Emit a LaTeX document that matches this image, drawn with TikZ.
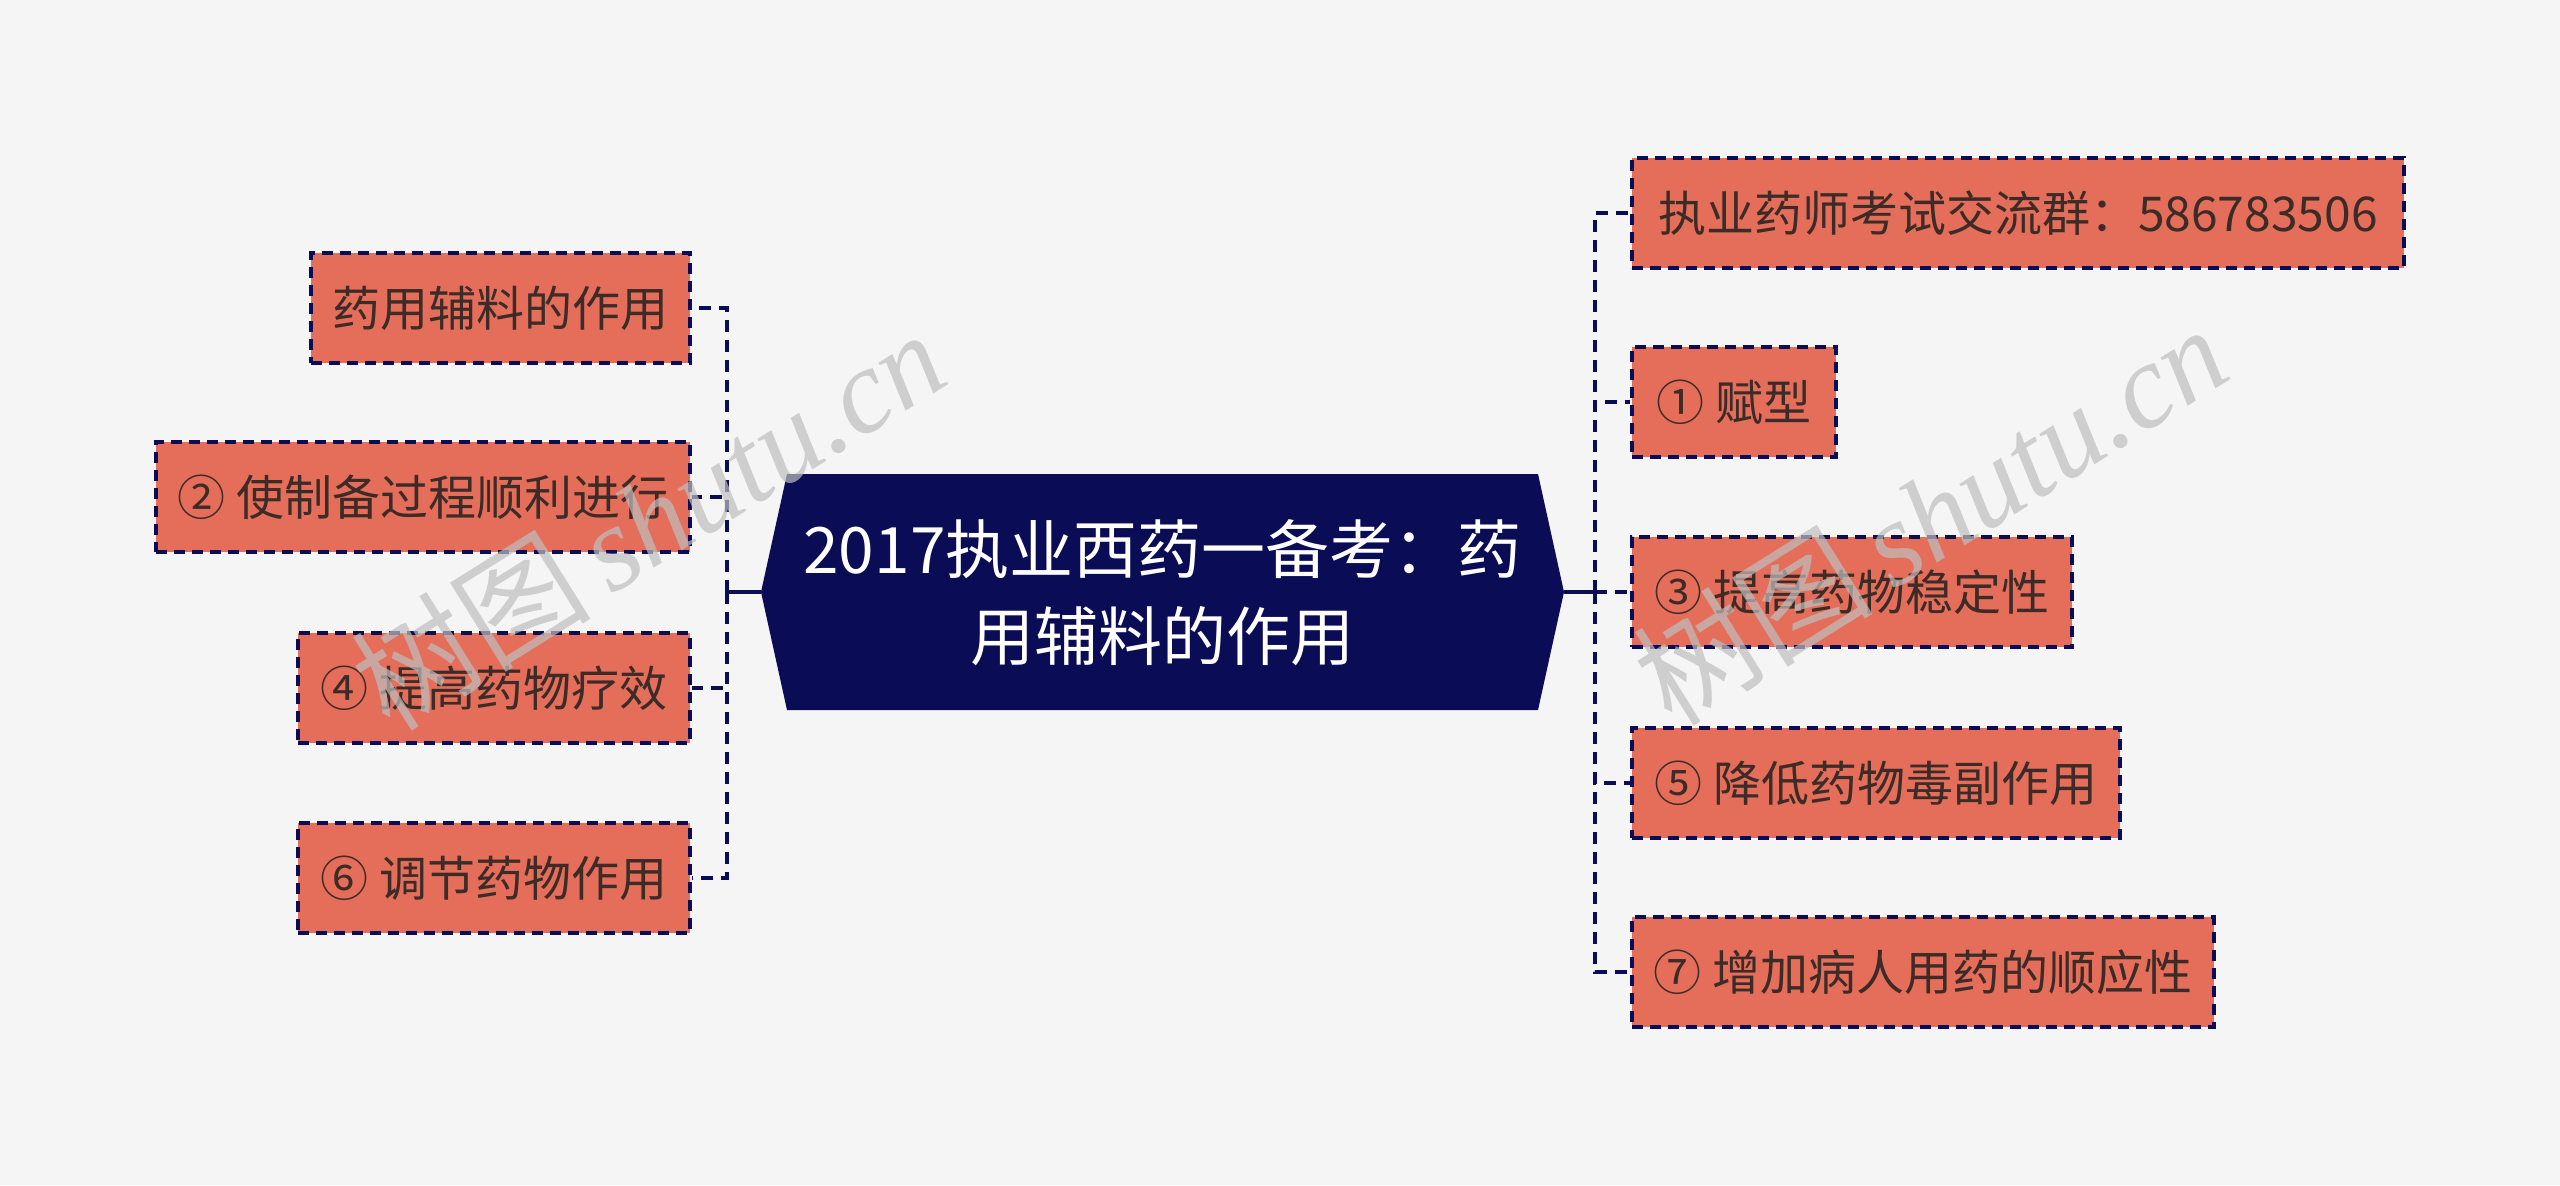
\documentclass[tikz,border=0pt]{standalone}
\usepackage{fontspec}
\newfontfamily\cjk{Noto Sans CJK SC}
\newfontfamily\wmserif{Liberation Serif}
\definecolor{bgc}{HTML}{F5F5F5}
\definecolor{navy}{HTML}{0A0C55}
\definecolor{salmon}{HTML}{E46E5A}
\definecolor{txt}{HTML}{3D2B28}
\definecolor{wm}{HTML}{BEBEBE}
\tikzset{
  box/.style={draw=navy, fill=salmon, dash pattern=on 5.5pt off 3.5pt, line width=1.9pt,
    minimum height=55pt, inner xsep=0pt, inner ysep=0pt, text=txt,
    font=\cjk\fontsize{24}{28}\selectfont},
  conn/.style={draw=navy, line width=1.9pt, dash pattern=on 6pt off 4pt},
  rootbox/.style={text=white, align=center, font=\cjk\fontsize{32}{43.5}\selectfont},
  wmark/.style={text=wm, opacity=0.7, rotate=32, font=\fontsize{60}{60}\selectfont}
}
\begin{document}
\begin{tikzpicture}[x=0.5pt,y=-0.5pt]
\fill[bgc] (0,0) rectangle (2560,1185);
\useasboundingbox (0,0) rectangle (2560,1185);

% central hexagon
\coordinate (hl) at (761,592);
\coordinate (hr) at (1564,592);
\coordinate (htl) at (787,474);
\coordinate (htr) at (1538,474);
\coordinate (hbl) at (787,710);
\coordinate (hbr) at (1538,710);
\fill[navy] (hl) -- (htl) -- (htr) -- (hr) -- (hbr) -- (hbl) -- cycle;
\node[rootbox] (root) at (1162.5,593) {2017执业西药一备考：药\\用辅料的作用};

% left children
\node[box, anchor=east, minimum width=189.5pt] (l1) at (692,308) {药用辅料的作用};
\node[box, anchor=east, minimum width=267pt] (l2) at (692,497) {② 使制备过程顺利进行};
\node[box, anchor=east, minimum width=196pt] (l3) at (692,688) {④ 提高药物疗效};
\node[box, anchor=east, minimum width=196pt] (l4) at (692,878) {⑥ 调节药物作用};

% right children
\node[box, anchor=west, minimum width=386pt] (r1) at (1630,213) {执业药师考试交流群：586783506};
\node[box, anchor=west, minimum width=102pt] (r2) at (1630,402) {① 赋型};
\node[box, anchor=west, minimum width=220pt] (r3) at (1630,592) {③ 提高药物稳定性};
\node[box, anchor=west, minimum width=244pt] (r4) at (1630,783) {⑤ 降低药物毒副作用};
\node[box, anchor=west, minimum width=291pt] (r5) at (1630,972) {⑦ 增加病人用药的顺应性};

% connectors
\draw[navy, line width=1.9pt] (hl) -- ++(-34,0);
\draw[navy, line width=1.9pt] (hr) -- ++(31,0);
\foreach \c in {l1,l2,l3,l4}{
  \draw[conn] (hl) ++(-34,0) |- (\c.east);
}
\foreach \c in {r1,r2,r3,r4,r5}{
  \draw[conn] (hr) ++(31,0) |- (\c.west);
}

% watermarks
\node[wmark] (wm1) at (648,519) {\cjk 树图\,\wmserif\itshape shutu.cn};
\node[wmark] (wm2) at (1930,514) {\cjk 树图\,\wmserif\itshape shutu.cn};
\end{tikzpicture}
\end{document}
